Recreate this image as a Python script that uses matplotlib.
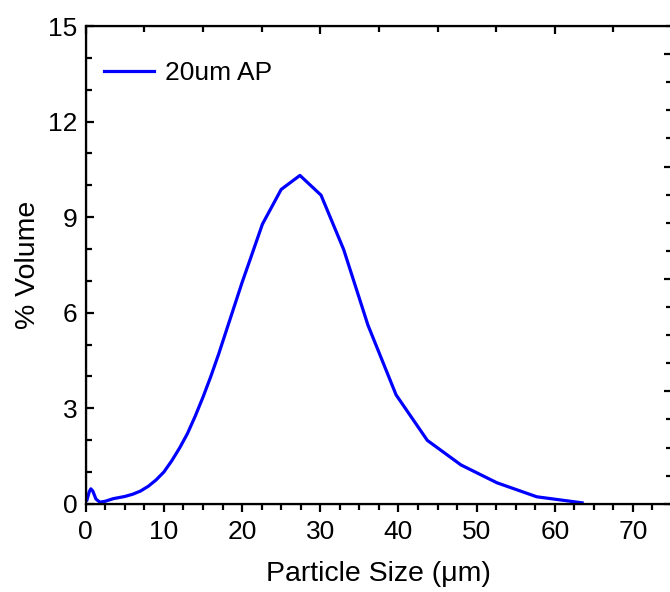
import matplotlib
matplotlib.use("Agg")
import matplotlib.pyplot as plt
from matplotlib.ticker import MultipleLocator

plt.rcParams['font.family'] = ['Liberation Sans', 'DejaVu Sans']

# particle size distribution
size_um = [0.15, 0.45, 0.65, 0.9, 1.3, 1.8, 2.5, 3.5, 5.0, 6.0, 7.0, 8.0, 9.0,
           10.0, 11.0, 12.0, 13.0, 14.0, 15.0, 16.0, 17.0, 18.0, 19.0, 20.0,
           21.0, 22.6, 25.0, 27.4, 30.1, 33.0, 36.1, 39.7, 43.7, 48.0, 52.6,
           57.7, 63.5]
volume_pct = [0.12, 0.38, 0.47, 0.40, 0.15, 0.05, 0.08, 0.16, 0.23, 0.30, 0.40,
              0.55, 0.75, 1.00, 1.35, 1.75, 2.20, 2.75, 3.35, 4.00, 4.70, 5.45,
              6.20, 6.95, 7.65, 8.78, 9.87, 10.31, 9.69, 7.98, 5.61, 3.42, 1.99,
              1.22, 0.66, 0.22, 0.03]
series_label = "20um AP"

fig = plt.figure(figsize=(6.7, 5.92), dpi=100)
ax = fig.add_axes([0.128, 0.149, 0.875, 0.807])

ax.plot(size_um, volume_pct, color='#0000ff', lw=2.3, label=series_label)

ax.set_xlim(0, 75)
ax.set_ylim(0, 15)
ax.xaxis.set_major_locator(MultipleLocator(10))
ax.xaxis.set_minor_locator(MultipleLocator(2.5))
ax.yaxis.set_major_locator(MultipleLocator(3))
ax.yaxis.set_minor_locator(MultipleLocator(1))
ax.tick_params(axis='x', which='both', direction='out', width=1.6, labelsize=19, pad=6)
ax.tick_params(axis='x', which='major', length=6)
ax.tick_params(axis='x', which='minor', length=4)
ax.tick_params(axis='y', which='both', direction='in', width=1.6, labelsize=19, pad=6)
ax.tick_params(axis='y', which='major', length=6)
ax.tick_params(axis='y', which='minor', length=4)

for s in ax.spines.values():
    s.set_linewidth(1.6)

# secondary axes (no labels), as in the original
top = ax.twiny()
top.set_xlim(0, 75)
top.xaxis.set_major_locator(MultipleLocator(30))
top.xaxis.set_minor_locator(MultipleLocator(7.5))
top.tick_params(axis='x', which='both', direction='in', width=1.6, labeltop=False)
top.tick_params(axis='x', which='major', length=6)
top.tick_params(axis='x', which='minor', length=4)

right = ax.twinx()
right.set_ylim(0, 4.25)
right.yaxis.set_major_locator(MultipleLocator(1))
right.yaxis.set_minor_locator(MultipleLocator(0.25))
right.tick_params(axis='y', which='both', direction='in', width=1.6, labelright=False)
right.tick_params(axis='y', which='major', length=6)
right.tick_params(axis='y', which='minor', length=4)

ax.set_xlabel("Particle Size (\u03bcm)", fontsize=20.5, labelpad=12)
ax.set_ylabel("% Volume", fontsize=20.5, labelpad=5)

ax.legend(loc='upper left', frameon=False, fontsize=19, handlelength=1.9,
          handletextpad=0.4, borderaxespad=0.3, bbox_to_anchor=(0.0, 0.965))

fig.savefig("out.png", dpi=100)
